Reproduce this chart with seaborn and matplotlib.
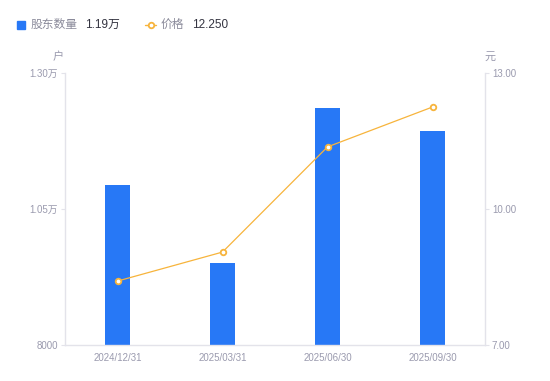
import matplotlib
matplotlib.use("Agg")
import matplotlib.pyplot as plt
import seaborn as sns
import pandas as pd
from matplotlib.patches import Rectangle
from matplotlib.lines import Line2D

dates = ["2024/12/31", "2025/03/31", "2025/06/30", "2025/09/30"]
holders = [10940, 9510, 12360, 11930]
price = [8.41, 9.05, 11.37, 12.25]
left_ticks = [8000, 10500, 13000]
left_labels = ["8000", "1.05万", "1.30万"]
right_ticks = [7.0, 10.0, 13.0]
right_labels = ["7.00", "10.00", "13.00"]

BAR = "#2778F6"
LINE = "#F7B43C"
GRAY = "#9A9AAE"
SPINE = "#E3E3EA"

sns.set_theme(style="white")
plt.rcParams["font.family"] = ["Liberation Sans", "Noto Sans CJK SC", "DejaVu Sans"]

df = pd.DataFrame({"date": dates, "holders": holders, "price": price})

fig = plt.figure(figsize=(5.5, 3.81), dpi=100)
ax = fig.add_axes([65/550, 1-345/381, 420/550, 272/381])
sns.barplot(data=df, x="date", y="holders", color=BAR, width=0.24, ax=ax,
            saturation=1, edgecolor=BAR, linewidth=0)
ax.set_ylim(8000, 13000)
ax.set_xlim(-0.5, 3.5)
ax.set_yticks(left_ticks)
ax.set_yticklabels(left_labels)
ax.set_xlabel("")
ax.set_ylabel("")
ax.tick_params(axis="y", colors=GRAY, labelsize=7, length=3, width=0.8, pad=2, color=SPINE)
ax.tick_params(axis="x", colors=GRAY, labelsize=7, length=0, pad=6)
for s in ["top", "right"]:
    ax.spines[s].set_visible(False)
for s in ["left", "bottom"]:
    ax.spines[s].set_color(SPINE)
    ax.spines[s].set_linewidth(1)

ax2 = ax.twinx()
sns.pointplot(data=df, x="date", y="price", color=LINE, ax=ax2,
              markers="o", linewidth=0.9, markersize=4,
              markerfacecolor="white", markeredgewidth=1.3)
ax2.set_ylim(7, 13)
ax2.set_xlim(-0.5, 3.5)
ax2.set_yticks(right_ticks)
ax2.set_yticklabels(right_labels)
ax2.set_ylabel("")
ax2.set_xlabel("")
ax2.tick_params(axis="y", colors=GRAY, labelsize=7, length=3, width=0.8, pad=2, color=SPINE)
for s in ["top", "left", "bottom"]:
    ax2.spines[s].set_visible(False)
ax2.spines["right"].set_color(SPINE)
ax2.spines["right"].set_linewidth(1)
ax2.grid(False)
ax.grid(False)

fig.text(58/550, 1-57/381, "户", color=GRAY, fontsize=8, ha="center", va="center")
fig.text(490/550, 1-57/381, "元", color=GRAY, fontsize=8, ha="center", va="center")

# legend
fig.add_artist(Rectangle((17/550, 1-28.5/381), 8/550, 8/381, color=BAR,
                         transform=fig.transFigure))
fig.text(31/550, 1-24.5/381, "股东数量", color="#8A8A9A", fontsize=8.5, va="center")
fig.text(85/550, 1-24.5/381, "1.19万", color="#333340", fontsize=8.5, va="center")
fig.add_artist(Line2D([145/550, 156/550], [1-24.5/381]*2, color=LINE, lw=1,
                      transform=fig.transFigure))
fig.add_artist(Line2D([150.5/550], [1-24.5/381], color=LINE, marker="o", markersize=4,
                      markerfacecolor="white", markeredgewidth=1.3,
                      transform=fig.transFigure))
fig.text(161/550, 1-24.5/381, "价格", color="#8A8A9A", fontsize=8.5, va="center")
fig.text(192/550, 1-24.5/381, "12.250", color="#333340", fontsize=8.5, va="center")

fig.savefig("out.png", dpi=100)
